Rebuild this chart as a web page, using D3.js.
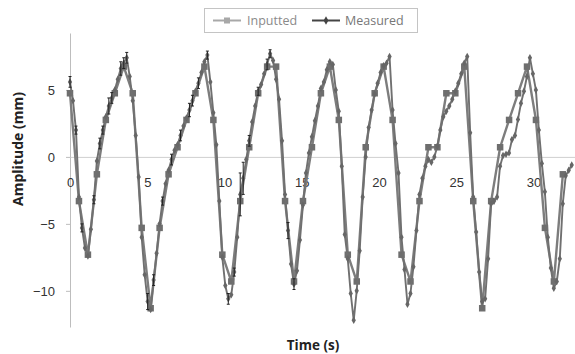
<!DOCTYPE html>
<html>
<head>
<meta charset="utf-8">
<script src="https://cdn.jsdelivr.net/npm/d3@7"></script>
<style>
  body { margin: 0; background: #fff; }
  svg { display: block; font-family: "Open Sans", "Noto Sans", sans-serif; }
</style>
</head>
<body>
<svg id="chart" width="575" height="354"></svg>
<script>
// sampling interval of each series (s)
const inputtedDt = 0.58;
const measuredDt = 0.1933;

// Inputted amplitude (mm), one value per inputtedDt
const inputted = [4.75, -3.3, -7.3, -1.3, 2.76, 4.75, 6.74, 4.75, -5.3, -11.3,
  -5.3, -1.3, 0.72, 2.76, 4.75, 6.74, 2.76, -7.3, -9.3, -3.3,
  0.72, 4.75, 6.74, 6.74, -3.3, -9.3, -3.3, 0.72, 4.75, 6.74,
  2.76, -7.3, -9.3, 0.72, 4.75, 6.74, 2.76, -7.3, -9.3, -3.3,
  0.72, 0.72, 4.75, 4.75, 6.74, -3.3, -11.3, -3.3, 0.72, 2.76,
  4.75, 6.74, 2.76, -5.3, -9.3, -1.3];

// Measured amplitude (mm), one value per measuredDt
const measured = [5.6, 4.2, 2.0, -3.0, -5.3, -6.8, -7.4, -5.4, -3.2, -0.3,
  1.0, 2.0, 3.0, 3.8, 4.4, 5.0, 5.8, 6.6, 7.0, 7.4,
  6.0, 4.2, 1.6, -1.5, -6.0, -8.8, -10.8, -11.4, -9.2, -7.2,
  -5.0, -3.3, -2.0, -1.0, -0.2, 0.5, 0.9, 1.6, 2.3, 2.9,
  3.5, 4.2, 4.9, 5.5, 6.3, 7.1, 7.6, 5.6, 3.3, 0.9,
  -3.3, -7.5, -9.6, -10.6, -10.3, -8.6, -6.0, -2.8, -1.6, -0.2,
  1.2, 2.6, 3.8, 4.9, 5.4, 6.2, 6.9, 7.7, 7.2, 5.8,
  4.3, 1.2, -2.8, -5.5, -8.0, -9.5, -8.5, -6.2, -3.6, -1.2,
  0.3, 1.5, 2.7, 3.8, 5.1, 5.6, 6.5, 7.1, 6.9, 5.0,
  3.4, -0.7, -5.8, -7.6, -10.2, -12.2, -10.0, -7.0, -3.0, 0.0,
  2.2, 3.5, 4.7, 5.5, 6.3, 6.8, 7.0, 7.5, 3.5, 1.0,
  -1.2, -6.0, -8.4, -11.0, -10.2, -8.2, -5.5, -2.8, -1.6, -0.7,
  -0.2, -0.4, 0.0, 0.8, 2.0, 3.0, 3.4, 3.8, 4.3, 4.9,
  5.5, 6.2, 7.0, 7.5, 1.8, -3.0, -5.6, -8.6, -10.8, -10.6,
  -7.6, -3.5, -3.3, -3.0, -0.7, 0.1, 0.2, 0.3, 1.3, 1.6,
  2.8, 4.0, 4.9, 6.0, 7.4, 6.2, 5.0, 2.0, -0.5, -2.6,
  -6.0, -8.3, -9.8, -9.3, -7.6, -3.5, -1.4, -1.0, -0.6];

// error bars on measured points: sample index and half-size (mm)
const errIndex = [0, 2, 4, 8, 10, 11, 13, 14, 17, 18, 19, 26, 28, 31, 34, 37, 40, 41, 43, 46, 53, 55, 57, 58, 60, 63, 66, 67, 73, 75];
const errSize = [0.4, 0.3, 0.3, 0.3, 0.4, 0.3, 0.6, 0.4, 0.5, 0.4, 0.4, 0.6, 0.4, 0.3, 0.4, 0.4, 0.5, 0.4, 0.4, 0.3, 0.4, 0.3, 1.6, 1.2, 0.4, 0.3, 0.4, 0.3, 0.6, 0.4];

const xTicks = [0, 5, 10, 15, 20, 25, 30];
const yTicks = [-10, -5, 0, 5];
const seriesNames = ["Inputted", "Measured"];

const inputColor = "#7d7d7d";
const inputMarker = "#6e6e6e";
const measColor = "#707070";
const measMarker = "#666";

const svg = d3.select("#chart");

const x = d3.scaleLinear().domain([0, 33]).range([70, 579.85]);
const y = d3.scaleLinear().domain([-12.7, 9.25]).range([327, 33]);

const inputPts = inputted.map((v, i) => ({ t: i * inputtedDt, v }));
const measPts = measured.map((v, i) => ({ t: i * measuredDt, v }));

// y axis
const yAxis = svg.append("g")
  .attr("transform", `translate(${x(0)},0)`)
  .call(d3.axisLeft(y).tickValues(yTicks).tickSize(4).tickSizeOuter(0).tickPadding(11));
yAxis.select(".domain").attr("stroke", "#bdbdbd");
yAxis.selectAll(".tick line").attr("stroke", "#bdbdbd");
yAxis.selectAll("text").attr("font-size", 13).attr("fill", "#333");

// x axis on the zero line
const xAxis = svg.append("g")
  .attr("transform", `translate(0,${y(0)})`)
  .call(d3.axisBottom(x).tickValues(xTicks).tickSize(0).tickPadding(21));
xAxis.select(".domain").attr("stroke", "#cfcfcf");
xAxis.selectAll("text").attr("font-size", 13).attr("fill", "#333");

const line = d3.line().x(d => x(d.t)).y(d => y(d.v));

// inputted series
svg.append("path")
  .datum(inputPts)
  .attr("fill", "none")
  .attr("stroke", inputColor)
  .attr("stroke-width", 2.4)
  .attr("stroke-linejoin", "round")
  .attr("d", line);

svg.append("g").selectAll("rect")
  .data(inputPts)
  .join("rect")
  .attr("x", d => x(d.t) - 3.25)
  .attr("y", d => y(d.v) - 3.25)
  .attr("width", 6.5)
  .attr("height", 6.5)
  .attr("fill", inputMarker);

// measured series
svg.append("path")
  .datum(measPts)
  .attr("fill", "none")
  .attr("stroke", measColor)
  .attr("stroke-width", 1.9)
  .attr("stroke-linejoin", "round")
  .attr("d", line);

const diamond = d3.symbol().type(d3.symbolDiamond).size(16);
svg.append("g").selectAll("path")
  .data(measPts)
  .join("path")
  .attr("transform", d => `translate(${x(d.t)},${y(d.v)})`)
  .attr("d", diamond)
  .attr("fill", measMarker);

// error bars
const errG = svg.append("g").attr("stroke", "#222").attr("stroke-width", 1);
errIndex.forEach((k, i) => {
  const p = measPts[k];
  const cx = x(p.t);
  const y1 = y(p.v + errSize[i]);
  const y2 = y(p.v - errSize[i]);
  errG.append("line").attr("x1", cx).attr("x2", cx).attr("y1", y1).attr("y2", y2);
  errG.append("line").attr("x1", cx - 1.5).attr("x2", cx + 1.5).attr("y1", y1).attr("y2", y1);
  errG.append("line").attr("x1", cx - 1.5).attr("x2", cx + 1.5).attr("y1", y2).attr("y2", y2);
});

// axis titles
svg.append("text")
  .attr("transform", "translate(23,149) rotate(-90)")
  .attr("text-anchor", "middle")
  .attr("font-size", 14)
  .attr("font-weight", "bold")
  .attr("fill", "#222")
  .text("Amplitude (mm)");

svg.append("text")
  .attr("x", 313)
  .attr("y", 350)
  .attr("text-anchor", "middle")
  .attr("font-size", 13.5)
  .attr("font-weight", "bold")
  .attr("fill", "#222")
  .text("Time (s)");

// legend
const legend = svg.append("g");
legend.append("rect")
  .attr("x", 204.5).attr("y", 8.5)
  .attr("width", 213).attr("height", 24)
  .attr("fill", "#fff")
  .attr("stroke", "#c4c4c4");

const legendItems = [
  { name: seriesNames[0], x0: 213, color: "#a8a8a8", marker: "square", textColor: "#8a8a8a", tx: 247 },
  { name: seriesNames[1], x0: 312, color: "#444", marker: "diamond", textColor: "#777", tx: 345 }
];
legendItems.forEach(it => {
  legend.append("line")
    .attr("x1", it.x0).attr("x2", it.x0 + 28)
    .attr("y1", 20.5).attr("y2", 20.5)
    .attr("stroke", it.color).attr("stroke-width", 2);
  if (it.marker === "square") {
    legend.append("rect")
      .attr("x", it.x0 + 11).attr("y", 17.5)
      .attr("width", 6).attr("height", 6)
      .attr("fill", it.color);
  } else {
    legend.append("path")
      .attr("transform", `translate(${it.x0 + 14},20.5)`)
      .attr("d", d3.symbol().type(d3.symbolDiamond).size(20))
      .attr("fill", it.color);
  }
  legend.append("text")
    .attr("x", it.tx).attr("y", 25)
    .attr("font-size", 12.5)
    .attr("fill", it.textColor)
    .text(it.name);
});
</script>
</body>
</html>
